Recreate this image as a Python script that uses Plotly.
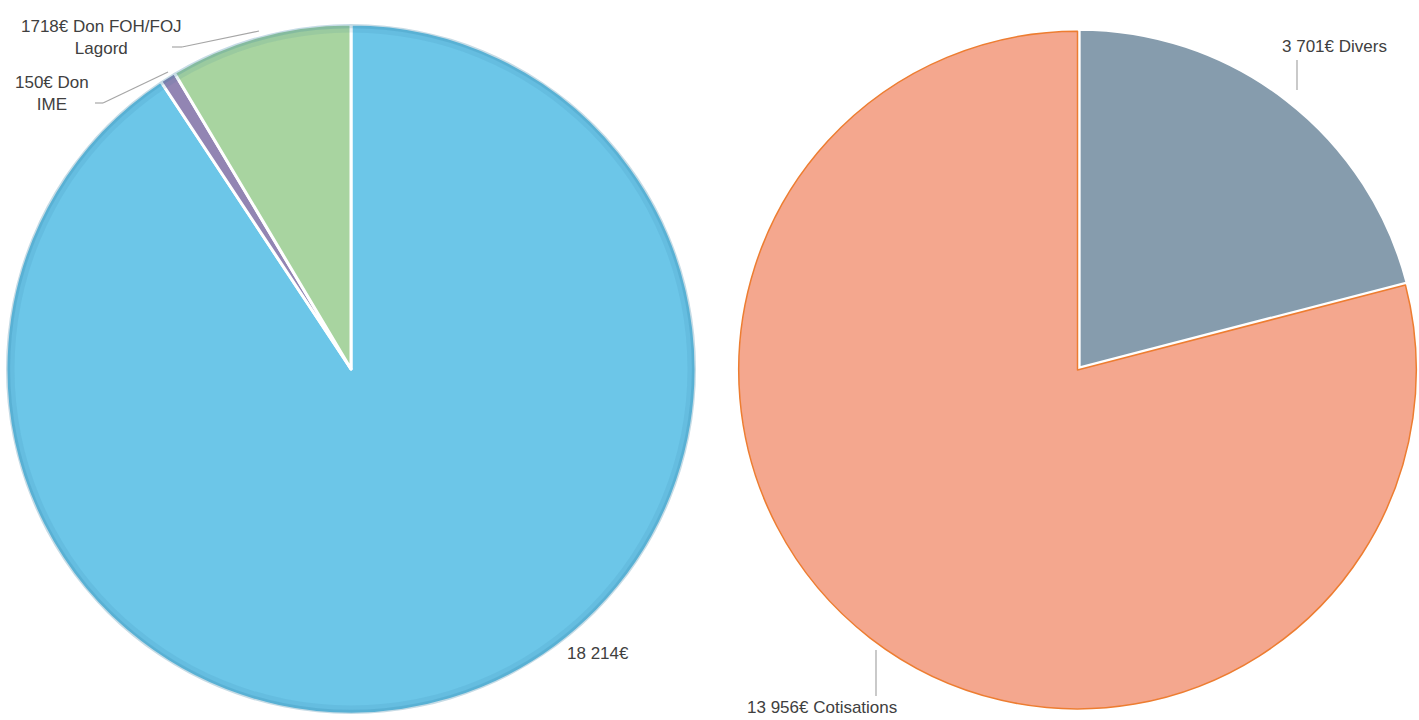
import plotly.graph_objects as go

# ---- data ----
left_labels = ["18 214€", "150€ Don IME", "1718€ Don FOH/FOJ Lagord"]
left_values = [18214, 150, 1718]
left_colors = ["#6cc6e8", "#9285b3", "#a8d4a0"]

right_labels = ["3 701€ Divers", "13 956€ Cotisations"]
right_values = [3701, 13956]
right_colors = ["#869cad", "#f4a78e"]
right_line_colors = ["#ffffff", "#ed7d31"]

W, H = 1419, 720

fig = go.Figure()

left_domain = dict(x=[6 / W, 696 / W], y=[6 / H, 696 / H])
right_domain = dict(x=[736 / W, 1.0], y=[0.0, 0.972])

fig.add_trace(go.Pie(
    labels=left_labels, values=left_values, sort=False, direction="clockwise",
    rotation=0, textinfo="none", hoverinfo="label+value",
    marker=dict(colors=left_colors, line=dict(color="#ffffff", width=3)),
    domain=left_domain, showlegend=False,
))
# soft darker rim (bevel imitation)
for hole, alpha in [(0.975, 0.10), (0.988, 0.18)]:
    fig.add_trace(go.Pie(
        values=[1], sort=False, textinfo="none", hoverinfo="skip", hole=hole,
        marker=dict(colors=["rgba(40,120,160,%s)" % alpha], line=dict(width=0)),
        domain=left_domain, showlegend=False,
    ))

fig.add_trace(go.Pie(
    labels=right_labels, values=right_values, sort=False, direction="clockwise",
    rotation=0, textinfo="none", hoverinfo="label+value", pull=[0.008, 0],
    marker=dict(colors=right_colors, line=dict(color=right_line_colors, width=[3, 1.5])),
    domain=right_domain, showlegend=False,
))

font = dict(family="Liberation Sans, Arial, sans-serif", size=17, color="#404040")

def px(x, y):
    return x / W, 1 - y / H

annots = [
    ("1718€ Don FOH/FOJ<br>Lagord", 101, 37),
    ("150€ Don<br>IME", 52, 94),
    ("18 214€", 598, 653),
    ("3 701€ Divers", 1334, 47),
    ("13 956€ Cotisations", 822, 707),
]
for text, x, y in annots:
    ax, ay = px(x, y)
    fig.add_annotation(text=text, x=ax, y=ay, xref="paper", yref="paper",
                       showarrow=False, font=font, align="center",
                       xanchor="center", yanchor="middle")

leaders = [
    [(172, 47), (182, 47), (259, 31)],
    [(95, 103), (103, 103), (168, 72)],
    [(1297, 60), (1297, 90)],
    [(876, 650), (876, 696)],
]
for pts in leaders:
    for (x0, y0), (x1, y1) in zip(pts[:-1], pts[1:]):
        a0, b0 = px(x0, y0)
        a1, b1 = px(x1, y1)
        fig.add_shape(type="line", x0=a0, y0=b0, x1=a1, y1=b1, xref="paper", yref="paper",
                      line=dict(color="#a6a6a6", width=1.2))

fig.update_layout(
    width=W, height=H, margin=dict(l=0, r=0, t=0, b=0),
    paper_bgcolor="white", plot_bgcolor="white",
)

fig.write_html("out.html", config={"displayModeBar": False},
               post_script="document.body.style.margin='0';document.body.style.overflow='hidden';")
